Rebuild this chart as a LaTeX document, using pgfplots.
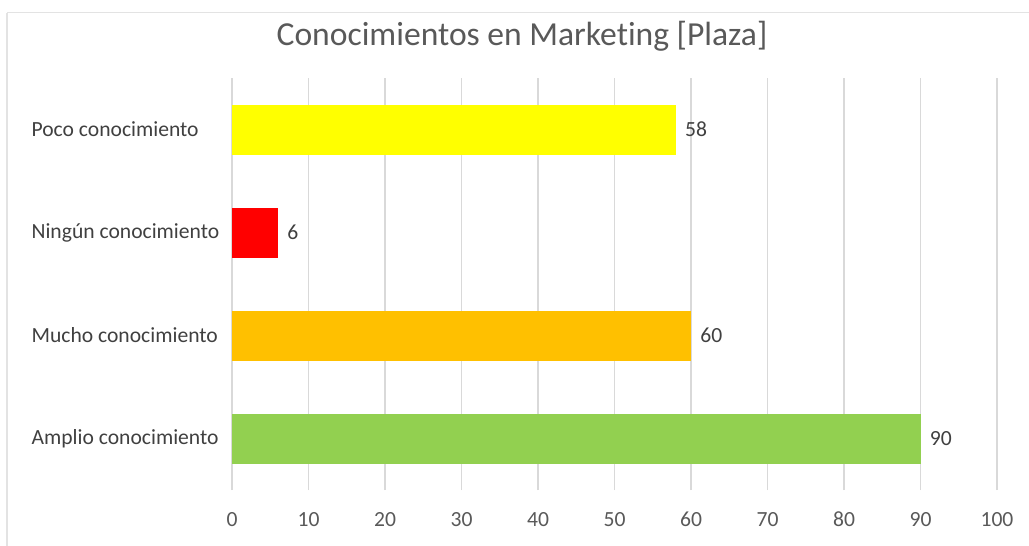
\documentclass[border=0pt]{standalone}
\usepackage{pgfplots}
\pgfplotsset{compat=1.18}
\usepackage{fontspec}
\setmainfont{Carlito}[Ligatures=NoCommon]
\definecolor{txtgray}{HTML}{595959}
\definecolor{lblgray}{HTML}{404040}
\definecolor{gridgray}{HTML}{D9D9D9}
\definecolor{bordergray}{HTML}{E3E3E3}
\definecolor{cyellow}{HTML}{FFFF00}
\definecolor{cred}{HTML}{FF0000}
\definecolor{corange}{HTML}{FFC000}
\definecolor{cgreen}{HTML}{92D050}
\begin{document}
\begin{tikzpicture}[x=0.5pt,y=-0.5pt]
\path[use as bounding box] (0,0) rectangle (1029,546);
\draw[bordergray, line width=0.8pt] (7,12.5) -- (1029,12.5);
\draw[bordergray, line width=0.8pt] (7,12.5) -- (7,546);
\node[txtgray, font=\fontsize{16.8}{20}\selectfont] at (522,36) {Conocimientos en Marketing [Plaza]};
\begin{axis}[
  at={(116pt,-245pt)}, anchor=south west,
  scale only axis, width=382.5pt, height=206pt,
  xmin=0, xmax=100, ymin=-0.5, ymax=3.5,
  xbar, bar width=25pt, bar shift=0pt,
  xtick={0,10,...,100},
  ytick={0,1,2,3},
  yticklabels={Amplio conocimiento, Mucho conocimiento, Ningún conocimiento, Poco conocimiento},
  axis line style={draw=none},
  major tick length=0pt,
  xmajorgrids, grid style={gridgray, line width=0.7pt},
  /pgf/number format/assume math mode=true,
  tick label style={font=\fontsize{10.8}{13}\selectfont, txtgray},
  yticklabel style={anchor=east, text width=96pt, align=flush left, inner sep=0pt, xshift=-4pt, text=lblgray},
  xticklabel style={inner sep=0pt, anchor=north, text height=7pt, text depth=0pt, yshift=-11pt},
  nodes near coords,
  every node near coord/.append style={font=\fontsize{10.8}{13}\selectfont, lblgray, anchor=west, inner sep=0pt, xshift=4.5pt},
  point meta=x,
]
\addplot[fill=cgreen, draw=none] coordinates {(90,0)};
\addplot[fill=corange, draw=none] coordinates {(60,1)};
\addplot[fill=cred, draw=none] coordinates {(6,2)};
\addplot[fill=cyellow, draw=none] coordinates {(58,3)};
\end{axis}
\end{tikzpicture}
\end{document}
